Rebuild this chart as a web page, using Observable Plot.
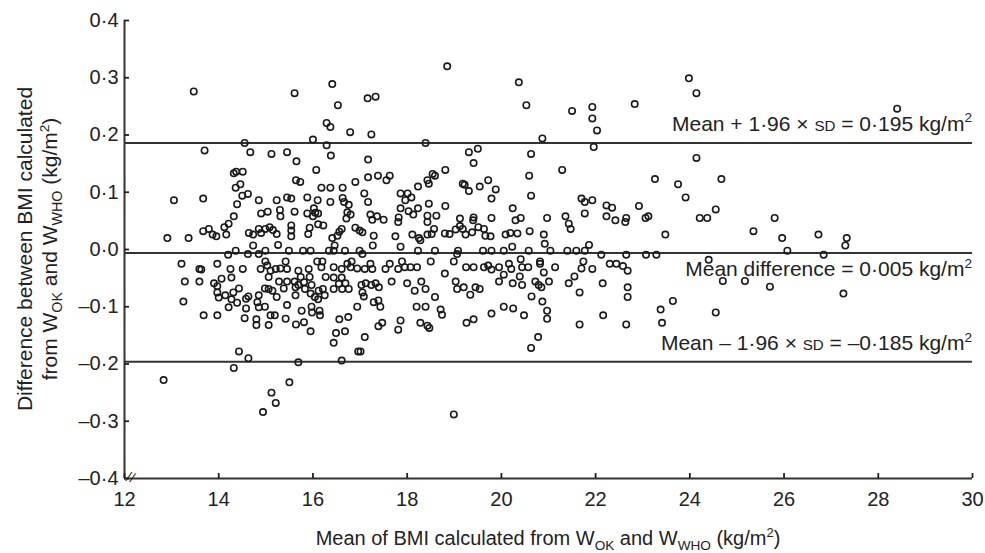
<!DOCTYPE html>
<html><head><meta charset="utf-8">
<script src="https://cdn.jsdelivr.net/npm/d3@7"></script>
<script src="https://cdn.jsdelivr.net/npm/@observablehq/plot@0.6"></script>
<style>body{margin:0;background:#fff;} svg{display:block}</style>
</head><body><div id="chart"></div>
<script>
const bmiMean = [13.47,13.70,13.05,13.67,12.91,13.36,13.67,13.79,13.87,13.95,
13.21,13.59,13.63,13.97,13.28,13.59,13.90,13.97,13.97,14.00,
13.25,13.68,13.97,12.83,
15.61,16.41,16.53,17.16,17.33,16.29,16.37,16.79,17.24,14.55,
16.00,16.29,14.67,15.12,15.45,15.65,16.38,17.17,16.07,14.32,
14.37,14.51,15.64,15.73,16.90,17.17,17.38,14.46,14.36,16.18,
16.37,16.63,14.50,14.62,14.85,15.23,15.45,15.54,15.88,16.10,
16.37,16.63,16.66,17.09,17.17,14.39,14.90,15.04,15.30,15.31,
15.61,15.88,16.02,16.05,16.11,16.00,16.76,16.73,16.80,16.71,
17.22,17.36,17.26,14.32,14.21,14.12,14.16,14.64,14.73,14.85,
14.90,14.99,15.08,15.15,15.23,15.54,15.54,15.54,15.93,15.90,
16.11,16.22,16.41,16.52,16.56,16.61,16.90,16.99,17.05,17.29,
14.73,15.26,16.46,17.27,
14.20,14.36,14.62,14.85,14.99,15.49,15.79,15.95,16.34,16.44,
16.68,16.99,17.05,14.25,14.51,14.89,14.99,15.03,15.10,15.21,
15.31,15.42,15.45,15.69,15.91,16.09,16.20,16.18,16.44,16.61,
16.73,16.82,16.80,16.94,17.10,17.22,17.26,14.06,14.27,15.06,
15.28,15.45,15.61,15.74,15.81,15.93,15.97,15.63,15.69,16.27,
16.44,16.61,16.55,16.69,17.03,17.12,17.24,17.33,14.14,14.31,
14.43,14.27,14.39,14.58,14.63,14.85,14.98,15.06,15.23,15.14,
15.38,15.63,15.83,15.95,16.12,16.21,16.04,16.25,16.11,16.44,
16.62,16.76,17.05,17.08,17.29,17.39,14.21,14.58,14.82,14.85,
14.98,15.45,15.97,15.98,16.14,16.15,15.76,16.94,14.55,14.80,
14.80,15.10,15.19,15.06,15.42,15.64,15.81,15.95,16.56,16.75,
16.49,16.68,16.44,17.10,17.39,14.43,14.63,14.32,15.69,16.61,
16.96,17.01,15.50,15.12,15.21,14.94,
18.85,20.37,20.53,18.39,20.87,19.31,19.50,19.41,20.63,18.81,
21.29,17.56,17.63,18.54,18.59,18.43,18.46,18.23,19.18,19.22,
19.31,19.54,19.72,19.88,19.79,20.59,20.63,17.86,18.01,18.09,
17.96,17.86,18.03,18.23,18.13,18.46,18.43,18.62,18.43,18.81,
17.82,17.81,17.50,19.12,19.41,19.40,19.79,20.24,20.30,20.41,
20.97,17.75,18.11,18.25,18.28,18.43,18.57,18.52,18.80,18.90,
19.03,19.12,19.18,19.24,19.38,19.51,19.63,19.66,19.77,20.09,
20.19,20.34,20.60,20.90,20.92,
17.86,18.23,18.59,19.08,19.06,19.61,19.79,20.05,20.23,20.58,
21.04,
17.54,17.63,17.81,17.89,17.95,18.07,18.21,18.50,18.80,18.99,
19.25,19.41,19.63,19.72,19.79,19.95,20.05,20.16,20.21,20.41,
20.44,20.57,20.39,20.82,20.82,20.90,21.14,
17.40,17.67,18.00,18.16,18.30,18.39,19.03,19.06,19.20,19.34,
19.45,19.54,19.95,20.24,20.44,20.72,20.79,20.85,21.01,
17.43,18.59,18.20,18.39,18.71,18.74,19.79,20.05,20.25,20.48,
20.64,20.87,20.97,20.97,17.47,
17.86,17.81,18.28,18.43,18.47,19.26,19.41,20.78,20.63,18.99,
23.98,24.14,22.83,21.50,21.93,21.93,22.03,21.96,24.14,
23.26,23.75,23.91,24.67,21.70,21.77,21.93,21.77,21.36,21.43,
21.47,22.23,22.35,22.23,22.42,22.65,22.63,22.92,23.06,23.12,
23.48,24.21,24.37,24.55,25.35,21.86,21.40,21.59,21.77,
22.12,22.65,23.07,23.29,
21.74,21.70,21.93,22.30,22.44,22.58,22.68,21.55,21.43,21.66,
22.15,22.68,22.68,23.64,23.38,23.41,22.16,21.66,22.65,24.40,
24.70,25.17,24.55,
28.40,25.80,25.96,26.07,26.73,26.84,27.33,27.30,25.70,27.26];

const bmiDiff = [0.276,0.173,0.086,0.089,0.020,0.020,0.032,0.036,0.026,0.023,
-0.025,-0.034,-0.035,-0.025,-0.056,-0.056,-0.059,-0.064,-0.075,-0.084,
-0.091,-0.115,-0.115,-0.228,
0.273,0.289,0.252,0.264,0.267,0.221,0.214,0.205,0.201,0.186,
0.192,0.182,0.170,0.167,0.170,0.154,0.164,0.157,0.139,0.133,
0.136,0.136,0.121,0.118,0.118,0.126,0.129,0.114,0.108,0.108,
0.108,0.108,0.094,0.097,0.086,0.086,0.091,0.089,0.091,0.086,
0.083,0.090,0.083,0.098,0.083,0.079,0.063,0.066,0.069,0.058,
0.066,0.063,0.072,0.064,0.063,0.058,0.078,0.065,0.061,0.054,
0.061,0.058,0.052,0.058,0.045,0.039,0.026,0.029,0.026,0.036,
0.029,0.036,0.039,0.034,0.027,0.042,0.033,0.023,0.038,0.027,
0.044,0.042,0.020,0.024,0.031,0.036,0.038,0.033,0.030,0.024,
0.007,0.008,0.007,0.007,
-0.009,-0.002,-0.008,-0.008,-0.002,-0.002,-0.002,-0.002,-0.002,-0.002,
-0.002,-0.002,-0.008,-0.034,-0.034,-0.034,-0.021,-0.028,-0.037,-0.034,
-0.033,-0.021,-0.034,-0.037,-0.034,-0.021,-0.021,-0.031,-0.031,-0.034,
-0.025,-0.021,-0.031,-0.033,-0.034,-0.025,-0.034,-0.051,-0.049,-0.048,
-0.056,-0.056,-0.056,-0.048,-0.057,-0.048,-0.062,-0.066,-0.062,-0.048,
-0.049,-0.049,-0.060,-0.059,-0.062,-0.059,-0.062,-0.059,-0.080,-0.075,
-0.068,-0.087,-0.093,-0.086,-0.082,-0.080,-0.068,-0.069,-0.083,-0.072,
-0.068,-0.080,-0.069,-0.077,-0.072,-0.069,-0.083,-0.080,-0.087,-0.069,
-0.069,-0.069,-0.075,-0.082,-0.092,-0.089,-0.101,-0.103,-0.092,-0.101,
-0.100,-0.097,-0.100,-0.110,-0.107,-0.115,-0.107,-0.100,-0.120,-0.122,
-0.132,-0.115,-0.115,-0.132,-0.121,-0.131,-0.127,-0.143,-0.122,-0.118,
-0.146,-0.143,-0.163,-0.153,-0.134,-0.178,-0.190,-0.207,-0.197,-0.194,
-0.178,-0.178,-0.232,-0.250,-0.268,-0.284,
0.320,0.292,0.252,0.186,0.194,0.170,0.176,0.151,0.167,0.139,
0.139,0.121,0.129,0.132,0.129,0.121,0.115,0.110,0.115,0.113,
0.102,0.110,0.121,0.105,0.089,0.129,0.094,0.098,0.098,0.091,
0.086,0.072,0.067,0.072,0.061,0.080,0.059,0.059,0.048,0.076,
0.056,0.048,0.052,0.054,0.056,0.051,0.055,0.072,0.051,0.055,
0.055,0.023,0.026,0.020,0.016,0.026,0.036,0.027,0.028,0.027,
0.035,0.041,0.036,0.026,0.030,0.039,0.036,0.024,0.023,0.026,
0.029,0.028,0.032,0.026,0.010,
0.005,-0.002,-0.002,-0.002,-0.008,-0.002,-0.002,-0.002,0.005,-0.002,
-0.002,
-0.034,-0.025,-0.034,-0.021,-0.031,-0.031,-0.031,-0.021,-0.042,-0.021,
-0.031,-0.031,-0.031,-0.028,-0.035,-0.031,-0.044,-0.025,-0.034,-0.017,
-0.031,-0.031,-0.047,-0.021,-0.025,-0.040,-0.031,
-0.066,-0.056,-0.059,-0.072,-0.056,-0.069,-0.056,-0.069,-0.066,-0.079,
-0.066,-0.069,-0.056,-0.059,-0.062,-0.056,-0.062,-0.066,-0.056,
-0.100,-0.083,-0.100,-0.100,-0.105,-0.114,-0.112,-0.100,-0.103,-0.115,
-0.082,-0.091,-0.107,-0.121,-0.128,
-0.124,-0.140,-0.128,-0.133,-0.137,-0.128,-0.122,-0.153,-0.172,-0.288,
0.299,0.273,0.254,0.242,0.249,0.229,0.208,0.179,0.160,
0.123,0.114,0.091,0.123,0.089,0.083,0.086,0.063,0.058,0.045,
0.036,0.077,0.073,0.058,0.051,0.055,0.048,0.076,0.055,0.058,
0.026,0.055,0.055,0.070,0.032,0.008,-0.002,-0.002,-0.002,
-0.009,-0.009,-0.009,-0.009,
-0.021,-0.033,-0.034,-0.025,-0.025,-0.029,-0.037,-0.047,-0.059,-0.075,
-0.059,-0.066,-0.083,-0.090,-0.105,-0.128,-0.115,-0.131,-0.131,-0.018,
-0.055,-0.055,-0.110,
0.246,0.055,0.020,-0.002,0.026,-0.009,0.020,0.007,-0.065,-0.077];

const xTicks = [12,14,16,18,20,22,24,26,28,30];
const xTickLabels = ["12","14","16","18","20","22","24","26","28","30"];
const yTicks = [-0.4,-0.3,-0.2,-0.1,0,0.1,0.2,0.3,0.4];
const yTickLabels = ["–0·4","–0·3","–0·2","–0·1","0·0","0·1","0·2","0·3","0·4"];
// reference lines as drawn (upper limit, mean difference, lower limit)
const limitValues = [0.186, -0.006, -0.196];
const limitLabelParts = [
  [["Mean + 1·96 × ",""],["SD","sc"],[" = 0·195 kg/m",""],["2","sup"]],
  [["Mean difference = 0·005 kg/m",""],["2","sup"]],
  [["Mean – 1·96 × ",""],["SD","sc"],[" = –0·185 kg/m",""],["2","sup"]]
];
const xTitleParts = [["Mean of BMI calculated from W",""],["OK","sub"],[" and W",""],["WHO","sub"],[" (kg/m",""],["2","sup"],[")",""]];
const yTitleLine1 = [["Difference between BMI calculated",""]];
const yTitleLine2 = [["from W",""],["OK","sub"],[" and W",""],["WHO","sub"],[" (kg/m",""],["2","sup"],[")",""]];

const n = Math.min(bmiMean.length, bmiDiff.length);
const points = d3.range(n).map(i => ({x: bmiMean[i], y: bmiDiff[i]}));

const ink = "#222";
const plot = Plot.plot({
  width: 985,
  height: 553,
  marginLeft: 124,
  marginRight: 13,
  marginTop: 20,
  marginBottom: 75,
  style: {fontFamily: "'Liberation Sans', Arial, sans-serif", color: ink, background: "#fff"},
  x: {domain: [12, 30], label: null},
  y: {domain: [-0.4, 0.4], label: null},
  marks: [
    Plot.ruleY(limitValues, {stroke: "#333", strokeWidth: 2}),
    Plot.dot(points, {x: "x", y: "y", r: 3.2, stroke: "#1a1a1a", strokeWidth: 1.6, fill: "none"}),
    Plot.ruleX([xTicks[0]], {stroke: "#333", strokeWidth: 2}),
    Plot.ruleY([yTicks[0]], {stroke: "#333", strokeWidth: 2}),
    Plot.axisX(xTicks, {tickSize: 5, dy: -5, tickPadding: 13, strokeWidth: 1.8, fontSize: 20,
      tickFormat: d => xTickLabels[xTicks.indexOf(d)]}),
    Plot.axisY(yTicks, {tickSize: 5, dx: 5, tickPadding: 6, strokeWidth: 1.8, fontSize: 20,
      tickFormat: d => yTickLabels[yTicks.indexOf(d)]}),
    Plot.text([yTicks[0]], {x: xTicks[0], y: d => d, text: () => "//", dx: 6, dy: -1, fontSize: 14, rotate: 20})
  ]
});
document.getElementById("chart").appendChild(plot);

const svg = d3.select(plot);
const sx = plot.scale("x"), sy = plot.scale("y");

function rich(textSel, parts) {
  let shift = 0;
  parts.forEach(([t, kind]) => {
    const ts = textSel.append("tspan").text(t);
    if (kind === "sc") ts.attr("font-size", "0.72em");
    if (kind === "sup") { ts.attr("font-size", "0.65em").attr("dy", "-0.6em"); shift = 1; }
    else if (kind === "sub") { ts.attr("font-size", "0.68em").attr("dy", "0.35em"); shift = 2; }
    else if (shift === 1) { ts.attr("dy", "0.39em"); shift = 0; }
    else if (shift === 2) { ts.attr("dy", "-0.238em"); shift = 0; }
  });
}

// reference line annotations
const annOffsets = [-12, 24, -11];
limitValues.forEach((v, i) => {
  const t = svg.append("text")
    .attr("x", sx.apply(xTicks[xTicks.length - 1]))
    .attr("y", sy.apply(v) + annOffsets[i])
    .attr("text-anchor", "end")
    .attr("font-size", 21)
    .attr("fill", ink);
  rich(t, limitLabelParts[i]);
});

// x title
const xt = svg.append("text")
  .attr("x", (sx.apply(xTicks[0]) + sx.apply(xTicks[xTicks.length - 1])) / 2)
  .attr("y", 545)
  .attr("text-anchor", "middle")
  .attr("font-size", 20)
  .attr("fill", ink);
rich(xt, xTitleParts);

// y title
const cy = (sy.apply(yTicks[0]) + sy.apply(yTicks[yTicks.length - 1])) / 2;
const yg = svg.append("g").attr("transform", `translate(0,${cy}) rotate(-90)`);
const y1 = yg.append("text").attr("x", 0).attr("y", 32).attr("text-anchor", "middle").attr("font-size", 21).attr("fill", ink);
rich(y1, yTitleLine1);
const y2 = yg.append("text").attr("x", 0).attr("y", 57).attr("text-anchor", "middle").attr("font-size", 21).attr("fill", ink);
rich(y2, yTitleLine2);
</script>
</body></html>
